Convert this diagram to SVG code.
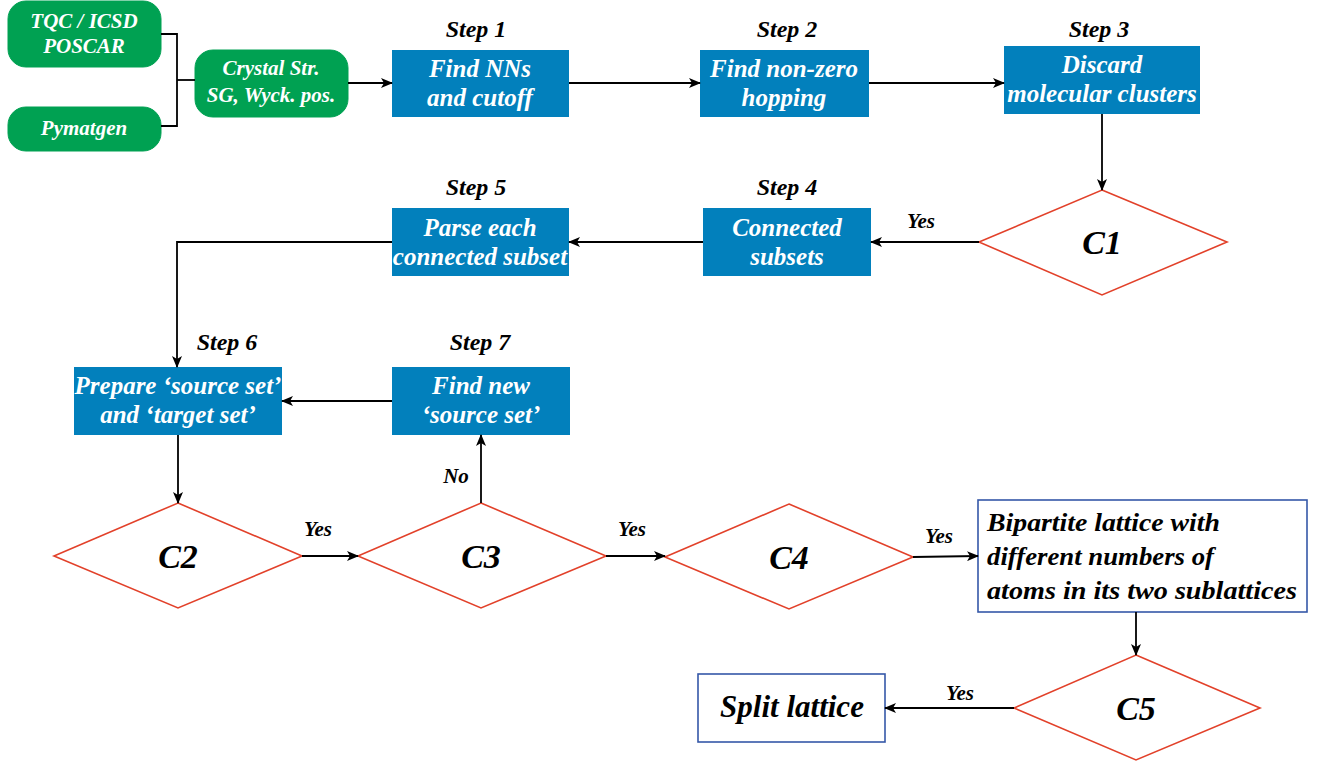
<svg xmlns="http://www.w3.org/2000/svg" width="1318" height="766" viewBox="0 0 1318 766">
<defs>
<marker id="ah" viewBox="0 0 12 10" refX="11" refY="5" markerWidth="12" markerHeight="10" markerUnits="userSpaceOnUse" orient="auto">
<path d="M0,0 L12,5 L0,10 L3,5 z" fill="#000"/>
</marker>
<style>
text{font-family:"Liberation Serif","Times New Roman",serif;font-weight:bold;font-style:italic;text-anchor:middle}
.g{fill:#00A152;stroke:#00A152}
.gt{fill:#fff;font-size:21px}
.b{fill:#0280BC}
.bt{fill:#fff;font-size:25px}
.st{fill:#000;font-size:24px}
.d{fill:#fff;stroke:#E2412A;stroke-width:1.6}
.dt{fill:#000;font-size:34px}
.o{fill:#fff;stroke:#3558A8;stroke-width:1.6}
.y{fill:#000;font-size:21px}
.c{fill:none;stroke:#000;stroke-width:1.8}
</style>
</defs>
<g id="tqc"><rect class="g" x="8" y="1" width="153" height="66" rx="18"/><text class="gt" x="84" y="28">TQC / ICSD</text><text class="gt" x="84" y="53">POSCAR</text></g>
<g id="pymatgen"><rect class="g" x="8" y="107" width="153" height="44" rx="18"/><text class="gt" x="84" y="135">Pymatgen</text></g>
<g id="crystal"><rect class="g" x="195" y="50" width="153" height="67" rx="18"/><text class="gt" x="271" y="75">Crystal Str.</text><text class="gt" x="271" y="102">SG, Wyck. pos.</text></g>
<g id="step1"><text class="st" x="476" y="37">Step 1</text><rect class="b" x="392" y="50" width="177" height="67"/><text class="bt" x="480" y="77">Find NNs</text><text class="bt" x="480" y="106">and cutoff</text></g>
<g id="step2"><text class="st" x="787" y="37">Step 2</text><rect class="b" x="700" y="50" width="169" height="67"/><text class="bt" x="784" y="77">Find non-zero</text><text class="bt" x="784" y="106">hopping</text></g>
<g id="step3"><text class="st" x="1099" y="37">Step 3</text><rect class="b" x="1004" y="46" width="196" height="68"/><text class="bt" x="1102" y="73">Discard</text><text class="bt" x="1102" y="102">molecular clusters</text></g>
<g id="c1"><polygon class="d" points="1102,190 1227,242 1102,295 979,242"/><text class="dt" x="1102" y="254">C1</text></g>
<g id="step4"><text class="st" x="787" y="195">Step 4</text><rect class="b" x="703" y="208" width="168" height="68"/><text class="bt" x="787" y="236">Connected</text><text class="bt" x="787" y="265">subsets</text></g>
<g id="step5"><text class="st" x="476" y="195">Step 5</text><rect class="b" x="392" y="208" width="177" height="68"/><text class="bt" x="480" y="236">Parse each</text><text class="bt" x="480" y="265">connected subset</text></g>
<g id="step6"><text class="st" x="227" y="350">Step 6</text><rect class="b" x="74" y="367" width="208" height="68"/><text class="bt" x="178" y="394">Prepare ‘source set’</text><text class="bt" x="178" y="423">and ‘target set’</text></g>
<g id="step7"><text class="st" x="480" y="350">Step 7</text><rect class="b" x="392" y="367" width="178" height="68"/><text class="bt" x="481" y="394">Find new</text><text class="bt" x="481" y="423">‘source set’</text></g>
<g id="c2"><polygon class="d" points="178,503 302,556 178,608 54,556"/><text class="dt" x="178" y="568">C2</text></g>
<g id="c3"><polygon class="d" points="481,503 606,556 481,608 358,556"/><text class="dt" x="481" y="568">C3</text></g>
<g id="c4"><polygon class="d" points="789,504 913,557 789,609 665,557"/><text class="dt" x="789" y="569">C4</text></g>
<g id="bipartite"><rect class="o" x="978" y="500" width="329" height="112"/><text class="dt" style="font-size:25px;text-anchor:start" x="987" y="531" textLength="233" lengthAdjust="spacingAndGlyphs">Bipartite lattice with</text><text class="dt" style="font-size:25px;text-anchor:start" x="987" y="565" textLength="227" lengthAdjust="spacingAndGlyphs">different numbers of</text><text class="dt" style="font-size:25px;text-anchor:start" x="987" y="599" textLength="310" lengthAdjust="spacingAndGlyphs">atoms in its two sublattices</text></g>
<g id="c5"><polygon class="d" points="1136,655 1260,708 1136,760 1014,708"/><text class="dt" x="1136" y="720">C5</text></g>
<g id="split"><rect class="o" x="698" y="674" width="187" height="68"/><text class="dt" style="font-size:31px" x="792" y="717">Split lattice</text></g>
<g id="connectors">
<polyline class="c" points="161,34 177,34 177,126 161,126"/>
<line class="c" x1="177" y1="80" x2="195" y2="80"/>
<line class="c" x1="348" y1="83" x2="392" y2="83" marker-end="url(#ah)"/>
<line class="c" x1="569" y1="83" x2="700" y2="83" marker-end="url(#ah)"/>
<line class="c" x1="869" y1="83" x2="1004" y2="83" marker-end="url(#ah)"/>
<line class="c" x1="1102" y1="114" x2="1102" y2="190" marker-end="url(#ah)"/>
<line class="c" x1="979" y1="242" x2="871" y2="242" marker-end="url(#ah)"/>
<text class="y" x="921" y="228">Yes</text>
<line class="c" x1="703" y1="242" x2="569" y2="242" marker-end="url(#ah)"/>
<polyline class="c" points="392,242 177,242 177,367" marker-end="url(#ah)"/>
<line class="c" x1="392" y1="401" x2="282" y2="401" marker-end="url(#ah)"/>
<line class="c" x1="178" y1="435" x2="178" y2="503" marker-end="url(#ah)"/>
<line class="c" x1="302" y1="556" x2="358" y2="556" marker-end="url(#ah)"/>
<text class="y" x="318" y="536">Yes</text>
<line class="c" x1="481" y1="503" x2="481" y2="435" marker-end="url(#ah)"/>
<text class="y" x="456" y="483">No</text>
<line class="c" x1="606" y1="556" x2="665" y2="556" marker-end="url(#ah)"/>
<text class="y" x="632" y="536">Yes</text>
<line class="c" x1="913" y1="557" x2="978" y2="556" marker-end="url(#ah)"/>
<text class="y" x="939" y="543">Yes</text>
<line class="c" x1="1136" y1="612" x2="1136" y2="655" marker-end="url(#ah)"/>
<line class="c" x1="1014" y1="708" x2="885" y2="708" marker-end="url(#ah)"/>
<text class="y" x="960" y="700">Yes</text>
</g>
</svg>
